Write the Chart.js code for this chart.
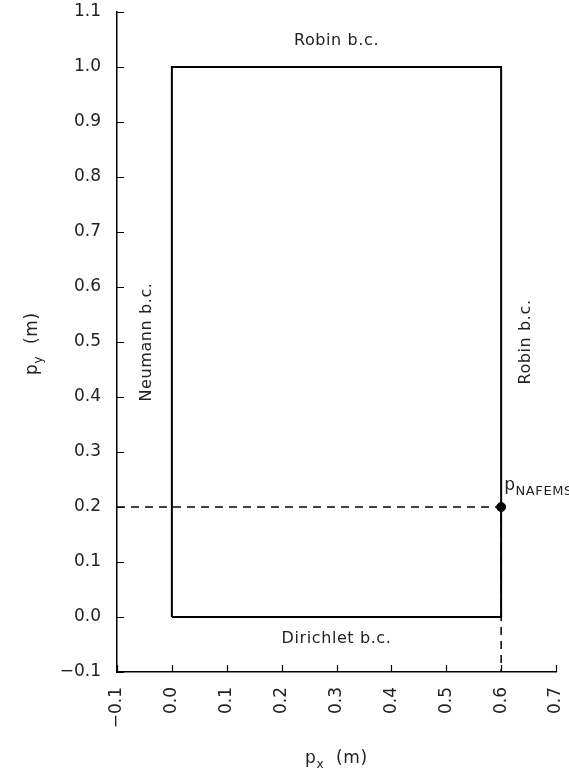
<!DOCTYPE html>
<html>
<head>
<meta charset="utf-8">
<title>NAFEMS domain</title>
<script src="https://cdn.jsdelivr.net/npm/chart.js@4/dist/chart.umd.min.js"></script>
<style>
  html, body { margin: 0; padding: 0; background: #fff; }
  #wrap { width: 569px; height: 772px; }
</style>
</head>
<body>
<div id="wrap"><canvas id="domainChart" width="569" height="772"></canvas></div>
<script>
// ---------- data ----------
// domain outline (closed rectangle)
const boxX = [0.0, 0.6, 0.6, 0.0, 0.0];
const boxY = [0.0, 0.0, 1.0, 1.0, 0.0];

// dashed guide to the reference point
const guideX = [-0.1, 0.6, 0.6];
const guideY = [0.2, 0.2, -0.1];

// reference point p_NAFEMS
const probeX = [0.6];
const probeY = [0.2];

// axis ranges / tick step
const xRange = [-0.1, 0.7];
const yRange = [-0.1, 1.1];
const tickStep = 0.1;

// boundary condition labels (data coords)
const bcText = ["Robin b.c.", "Dirichlet b.c.", "Neumann b.c.", "Robin b.c."];
const bcX = [0.3, 0.3, -0.046, 0.645];
const bcY = [1.047, -0.04, 0.5, 0.5];
const bcVertical = [false, false, true, true];

// ---------- helpers ----------
const FONT = "'DejaVu Sans', sans-serif";
const INK = "#222";

function toPoints(xs, ys) {
  return xs.map((x, i) => ({ x: x, y: ys[i] }));
}

function fmtTick(v) {
  let n = Number(v);
  if (Math.abs(n) < 1e-9) n = 0; // avoid "-0.0"
  return n.toFixed(1).replace("-", "\u2212");
}

// text with a subscript, drawn left to right from (x, y) baseline
function drawSubText(ctx, main, sub, rest, x, y, size, subSize) {
  ctx.font = size + "px " + FONT;
  ctx.fillText(main, x, y);
  let cx = x + ctx.measureText(main).width;
  ctx.font = subSize + "px " + FONT;
  ctx.fillText(sub, cx, y + size * 0.3);
  cx += ctx.measureText(sub).width;
  if (rest) {
    ctx.font = size + "px " + FONT;
    ctx.fillText(rest, cx, y);
  }
}

// ---------- plugin: inward ticks, titles, annotations ----------
const decorations = {
  id: "decorations",
  afterDraw(chart) {
    const ctx = chart.ctx;
    const xs = chart.scales.x;
    const ys = chart.scales.y;
    const area = chart.chartArea;
    const tl = 7;

    ctx.save();
    ctx.strokeStyle = "#000";
    ctx.lineWidth = 1.2;
    ctx.beginPath();
    xs.ticks.forEach(t => {
      const px = Math.round(xs.getPixelForValue(t.value)) + 0.5;
      ctx.moveTo(px, area.bottom);
      ctx.lineTo(px, area.bottom - tl);
    });
    ys.ticks.forEach(t => {
      const py = Math.round(ys.getPixelForValue(t.value)) + 0.5;
      ctx.moveTo(area.left, py);
      ctx.lineTo(area.left + tl, py);
    });
    ctx.stroke();

    ctx.fillStyle = INK;
    ctx.textBaseline = "alphabetic";
    ctx.textAlign = "left";
    ctx.letterSpacing = "0.6px";

    // x title
    drawSubText(ctx, "p", "x", "  (m)", 305, 763, 17, 12);

    // y title (rotated)
    ctx.save();
    ctx.translate(37, 375);
    ctx.rotate(-Math.PI / 2);
    drawSubText(ctx, "p", "y", "  (m)", 0, 0, 17, 12);
    ctx.restore();

    // boundary condition labels
    ctx.font = "16px " + FONT;
    ctx.textAlign = "center";
    ctx.textBaseline = "middle";
    bcText.forEach((txt, i) => {
      const px = xs.getPixelForValue(bcX[i]);
      const py = ys.getPixelForValue(bcY[i]);
      ctx.save();
      ctx.translate(px, py);
      if (bcVertical[i]) ctx.rotate(-Math.PI / 2);
      ctx.fillText(txt, 0, 0);
      ctx.restore();
    });

    // point label
    ctx.textAlign = "left";
    ctx.textBaseline = "alphabetic";
    const lx = xs.getPixelForValue(probeX[0]) + 3;
    const ly = ys.getPixelForValue(probeY[0]) - 17;
    drawSubText(ctx, "p", "NAFEMS", "", lx, ly, 17, 13);

    ctx.restore();
  }
};

// ---------- chart ----------
const tickFont = { family: "'DejaVu Sans', sans-serif", size: 17 };

new Chart(document.getElementById("domainChart"), {
  type: "scatter",
  data: {
    datasets: [
      {
        data: toPoints(boxX, boxY),
        showLine: true,
        borderColor: "#000",
        borderWidth: 2,
        pointRadius: 0,
        tension: 0
      },
      {
        data: toPoints(guideX, guideY),
        showLine: true,
        borderColor: "#000",
        borderWidth: 1.5,
        borderDash: [8, 6],
        pointRadius: 0,
        tension: 0
      },
      {
        data: toPoints(probeX, probeY),
        pointRadius: 4.5,
        pointBackgroundColor: "#000",
        pointBorderColor: "#000"
      }
    ]
  },
  options: {
    responsive: false,
    animation: false,
    devicePixelRatio: 1,
    layout: { padding: { top: 12, right: 13, left: 0, bottom: 0 } },
    plugins: {
      legend: { display: false },
      tooltip: { enabled: false }
    },
    scales: {
      x: {
        type: "linear",
        min: xRange[0],
        max: xRange[1],
        grid: { display: false, drawTicks: false },
        border: { display: true, color: "#000", width: 1.5 },
        ticks: {
          stepSize: tickStep,
          minRotation: 90,
          maxRotation: 90,
          padding: 15,
          color: INK,
          font: tickFont,
          callback: fmtTick
        },
        afterFit(scale) {
          scale.height = 100;
          scale.paddingLeft = 0;
          scale.paddingRight = 0;
        }
      },
      y: {
        type: "linear",
        min: yRange[0],
        max: yRange[1],
        grid: { display: false, drawTicks: false },
        border: { display: true, color: "#000", width: 1.5 },
        ticks: {
          stepSize: tickStep,
          padding: 16,
          color: INK,
          font: tickFont,
          callback: fmtTick
        },
        afterFit(scale) {
          scale.width = 117;
          scale.paddingTop = 0;
          scale.paddingBottom = 0;
        }
      }
    }
  },
  plugins: [decorations]
});
</script>
</body>
</html>
